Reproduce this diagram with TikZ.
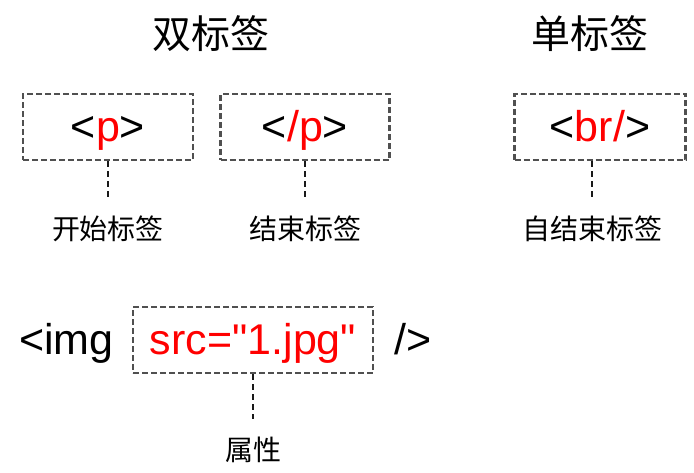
\documentclass[tikz,border=0pt]{standalone}
\usepackage{fontspec}
\setmainfont{Liberation Sans}
\newfontfamily\cjk{Noto Sans CJK SC}
\usepackage{tikz}
\usetikzlibrary{positioning}
\definecolor{boxgray}{RGB}{80,80,80}
\definecolor{tagred}{RGB}{255,0,0}

\begin{document}
\begin{tikzpicture}[x=1pt, y=-1pt, node distance=37pt,
  title/.style={font=\cjk\fontsize{39}{46}\selectfont},
  htmltxt/.style={inner sep=0pt, font=\fontsize{43}{50}\selectfont, text height=37pt, text depth=9pt},
  tagbox/.style={htmltxt, draw=boxgray, line width=2.3pt, dash pattern=on 6pt off 3pt, minimum height=66pt},
  lbl/.style={font=\cjk\fontsize{28}{34}\selectfont, inner sep=0pt, outer sep=18pt},
  lead/.style={draw=black!90, line width=2.3pt, dash pattern=on 6pt off 4pt}]

\useasboundingbox (0,0) rectangle (694,472);

\node[title] (dbl) at (211,34) {双标签};
\node[title] (sgl) at (590,34) {单标签};

\node[tagbox, minimum width=170pt] (p)    at (108,127) {<\textcolor{tagred}{p}>};
\node[tagbox, minimum width=169pt] (pend) at (305,127) {<\textcolor{tagred}{/p}>};
\node[tagbox, minimum width=171pt] (br)   at (600,127) {<\textcolor{tagred}{br/}>};

\node[lbl] (open)  [below=of p]    {开始标签};
\node[lbl] (close) [below=of pend] {结束标签};
\node[lbl] (self)  [below=of br, xshift=-8pt] {自结束标签};

\node[tagbox, minimum width=240pt, text=tagred] (src) at (253,340) {src=\textquotedbl 1.jpg\textquotedbl};
\node[htmltxt] (img)    [left=18pt of src]  {<img};
\node[htmltxt] (imgend) [right=20pt of src] {/>};
\node[lbl] (attr) [below=45pt of src] {属性};

\path[lead]
      (p)    edge (open)
      (pend) edge (close)
      (br.south -| self.north) edge (self)
      (src)  edge (attr);
\end{tikzpicture}
\end{document}
